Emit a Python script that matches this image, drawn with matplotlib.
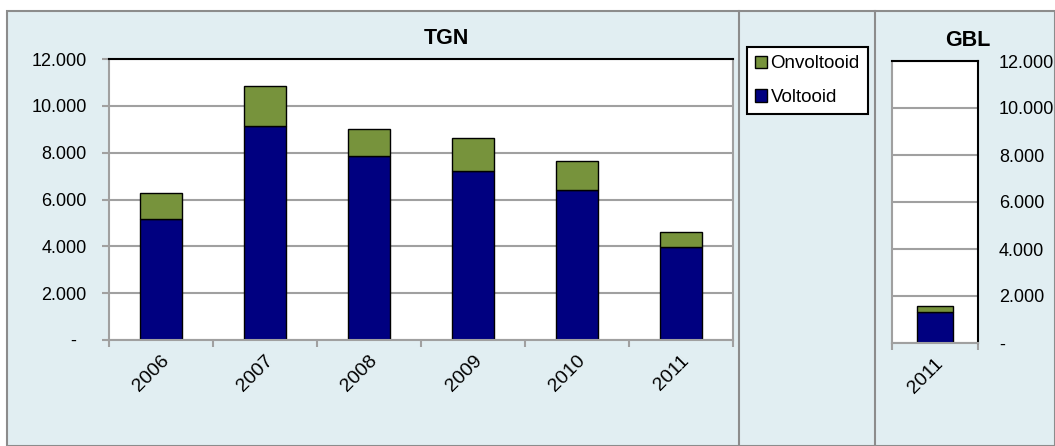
import matplotlib.pyplot as plt
from matplotlib.patches import Rectangle, Patch
from matplotlib.lines import Line2D
from matplotlib.ticker import FuncFormatter
import numpy as np

plt.rcParams['font.family'] = ['Liberation Sans', 'DejaVu Sans']

years_tgn = ['2006', '2007', '2008', '2009', '2010', '2011']
voltooid_tgn = [5180, 9140, 7860, 7200, 6420, 3960]
onvoltooid_tgn = [1110, 1690, 1160, 1430, 1240, 650]

years_gbl = ['2011']
voltooid_gbl = [1320]
onvoltooid_gbl = [250]

navy = '#000080'
green = '#77933C'
grid_c = '#A0A0A0'
bg = '#E1EEF2'
fs = 13

def fmt(v, pos):
    if v == 0:
        return '-  '
    return '{:,.0f}'.format(v).replace(',', '.')

def fmt_r(v, pos):
    if v == 0:
        return '-'
    return '{:,.0f}'.format(v).replace(',', '.')

fig = plt.figure(figsize=(10.55, 4.46), dpi=100)
W, H = 1055, 446

# achtergrond + scheidingslijnen
fig.patches.append(Rectangle((7 / W, 0), 1 - 7 / W, 1 - 11 / H, transform=fig.transFigure,
                             facecolor=bg, edgecolor='#8C8C8C', lw=1.5, zorder=-10))
for xp in [739, 875]:
    fig.lines.append(Line2D([xp / W, xp / W], [0, 1 - 11 / H], transform=fig.transFigure,
                            color='#8C8C8C', lw=1.5, zorder=-9))

def style(ax, n):
    ax.set_facecolor('white')
    ax.set_ylim(0, 12000)
    ax.set_yticks(np.arange(0, 12001, 2000))
    ax.grid(axis='y', color=grid_c, lw=1.5)
    ax.set_axisbelow(True)
    ax.set_xlim(-0.5, n - 0.5)
    ax.set_xticks(np.arange(n))
    ax.set_xticks(np.arange(n + 1) - 0.5, minor=True)
    ax.tick_params(axis='x', which='major', length=0, pad=9, labelsize=14)
    ax.tick_params(axis='x', which='minor', length=5, width=1.5, color=grid_c)
    ax.spines['left'].set_color(grid_c)
    ax.spines['bottom'].set_color(grid_c)
    ax.spines['top'].set_color('black')
    ax.spines['right'].set_color('black')
    for s in ax.spines.values():
        s.set_linewidth(1.5)

# TGN
ax1 = fig.add_axes([109 / W, 1 - 340 / H, (733 - 109) / W, (340 - 59) / H])
x1 = np.arange(len(years_tgn))
ax1.bar(x1, voltooid_tgn, 0.41, color=navy, edgecolor='black', lw=1)
ax1.bar(x1, onvoltooid_tgn, 0.41, bottom=voltooid_tgn, color=green, edgecolor='black', lw=1)
style(ax1, len(years_tgn))
ax1.yaxis.set_major_formatter(FuncFormatter(fmt))
ax1.spines['right'].set_color(grid_c)
ax1.set_xticklabels(years_tgn, rotation=45, ha='right', va='top', rotation_mode='anchor')
ax1.tick_params(axis='y', length=5, width=1.5, color=grid_c, labelsize=fs, pad=11)
fig.text(446 / W, 1 - 39 / H, 'TGN', fontsize=15.5, fontweight='bold', ha='center', va='center')

# GBL
ax2 = fig.add_axes([892 / W, 1 - 343 / H, (978 - 892) / W, (343 - 61) / H])
x2 = np.arange(len(years_gbl))
ax2.bar(x2, voltooid_gbl, 0.41, color=navy, edgecolor='black', lw=1)
ax2.bar(x2, onvoltooid_gbl, 0.41, bottom=voltooid_gbl, color=green, edgecolor='black', lw=1)
style(ax2, len(years_gbl))
ax2.yaxis.set_major_formatter(FuncFormatter(fmt_r))
ax2.set_xticklabels(years_gbl, rotation=45, ha='right', va='top', rotation_mode='anchor')
ax2.yaxis.tick_right()
ax2.tick_params(axis='y', length=0, labelsize=fs, pad=15)
fig.text(968 / W, 1 - 41 / H, 'GBL', fontsize=15.5, fontweight='bold', ha='center', va='center')

handles = [Patch(facecolor=green, edgecolor='black', label='Onvoltooid'),
           Patch(facecolor=navy, edgecolor='black', label='Voltooid')]
leg = fig.legend(handles=handles, loc='upper left', bbox_to_anchor=(747 / W, 1 - 47 / H),
                 fontsize=13.5, frameon=True, fancybox=False, edgecolor='black',
                 facecolor='white', framealpha=1,
                 handlelength=0.64, handleheight=0.64, handletextpad=0.16,
                 borderpad=0.45, labelspacing=0.88, borderaxespad=0)
leg.get_frame().set_linewidth(1.5)

fig.savefig('out.png', dpi=100)
